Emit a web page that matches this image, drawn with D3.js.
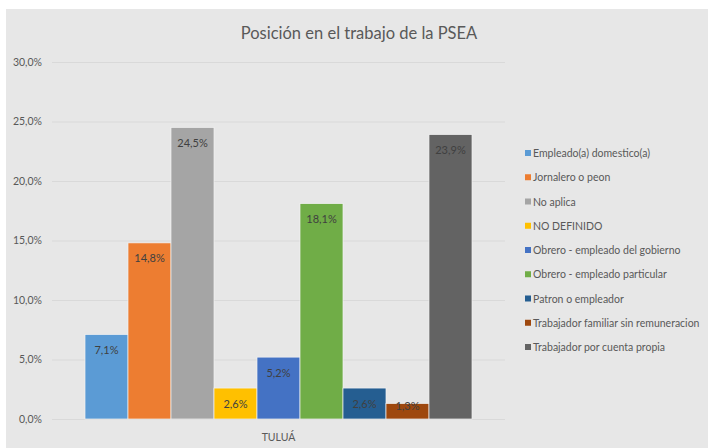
<!DOCTYPE html>
<html>
<head>
<meta charset="utf-8">
<script src="https://cdn.jsdelivr.net/npm/d3@7"></script>
<style>
  body { margin: 0; background: #fff; }
  svg { display: block; font-family: Lato, "Open Sans", sans-serif; }
</style>
</head>
<body>
<div id="chart"></div>
<script>
const categories = ["TULUÁ"];
const seriesNames = [
  "Empleado(a) domestico(a)",
  "Jornalero o peon",
  "No aplica",
  "NO DEFINIDO",
  "Obrero - empleado del gobierno",
  "Obrero - empleado particular",
  "Patron o empleador",
  "Trabajador familiar sin remuneracion",
  "Trabajador por cuenta propia"
];
const seriesValues = [7.1, 14.8, 24.5, 2.6, 5.2, 18.1, 2.6, 1.3, 23.9];
const seriesColors = ["#5b9bd5", "#ed7d31", "#a5a5a5", "#ffc000", "#4472c4", "#70ad47", "#255e91", "#9e480e", "#636363"];
const yTicks = [0, 5, 10, 15, 20, 25, 30];

const width = 708, height = 448;
const margin = { top: 62, right: 203, bottom: 29, left: 52 };

const svg = d3.select("#chart").append("svg")
  .attr("width", width)
  .attr("height", height);

// chart area background
svg.append("rect")
  .attr("x", 6).attr("y", 9)
  .attr("width", width - 6).attr("height", height - 9)
  .attr("fill", "#e7e7e7");

svg.append("text")
  .attr("x", 359).attr("y", 39)
  .attr("text-anchor", "middle")
  .attr("font-size", 16.5)
  .attr("fill", "#595959")
  .text("Posición en el trabajo de la PSEA");

const y = d3.scaleLinear().domain([0, 30]).range([height - margin.bottom, margin.top]);
const x0 = d3.scaleBand().domain(categories)
  .range([margin.left, width - margin.right])
  .paddingInner(0).paddingOuter(0.0853);
const x1 = d3.scaleBand().domain(seriesNames).range([0, x0.bandwidth()]);

const fmt = v => d3.format(".1f")(v).replace(".", ",") + "%";

// gridlines + y axis
const yAxis = svg.append("g")
  .attr("transform", `translate(${margin.left},0)`)
  .call(d3.axisLeft(y).tickValues(yTicks)
    .tickSize(-(width - margin.left - margin.right))
    .tickPadding(10)
    .tickFormat(fmt));
yAxis.select(".domain").remove();
yAxis.selectAll(".tick line").attr("stroke", "#d9d9d9").attr("stroke-width", 1);
yAxis.selectAll(".tick text").attr("fill", "#595959").attr("font-size", 10.5)
  .attr("font-family", "Lato, sans-serif");

// bars
const group = svg.append("g").selectAll("g")
  .data(categories)
  .join("g")
  .attr("transform", d => `translate(${x0(d)},0)`);

group.selectAll("rect")
  .data(seriesNames.map((n, i) => ({ name: n, value: seriesValues[i], color: seriesColors[i] })))
  .join("rect")
  .attr("x", d => x1(d.name))
  .attr("y", d => y(d.value))
  .attr("width", x1.bandwidth())
  .attr("height", d => y(0) - y(d.value))
  .attr("fill", d => d.color)
  .attr("stroke", "#f2f2f2")
  .attr("stroke-width", 0.7);

group.selectAll("text.lbl")
  .data(seriesNames.map((n, i) => ({ name: n, value: seriesValues[i] })))
  .join("text")
  .attr("class", "lbl")
  .attr("x", d => x1(d.name) + x1.bandwidth() / 2)
  .attr("y", d => Math.min(y(d.value) + 15.5, y(0) - 13) + 4)
  .attr("text-anchor", "middle")
  .attr("font-size", 11)
  .attr("fill", "#404040")
  .text(d => fmt(d.value));

// category axis label
svg.append("g").selectAll("text")
  .data(categories)
  .join("text")
  .attr("x", d => x0(d) + x0.bandwidth() / 2)
  .attr("y", height - margin.bottom + 22)
  .attr("text-anchor", "middle")
  .attr("font-size", 10.5)
  .attr("fill", "#595959")
  .text(d => d);

// legend
const legend = svg.append("g").attr("transform", "translate(525,153)");
const item = legend.selectAll("g")
  .data(seriesNames)
  .join("g")
  .attr("transform", (d, i) => `translate(0,${i * 24.25})`);
item.append("rect")
  .attr("x", 0).attr("y", -3)
  .attr("width", 6).attr("height", 6)
  .attr("fill", (d, i) => seriesColors[i]);
item.append("text")
  .attr("x", 8).attr("y", 4)
  .attr("font-size", 10.5)
  .attr("fill", "#595959")
  .text(d => d);
</script>
</body>
</html>
